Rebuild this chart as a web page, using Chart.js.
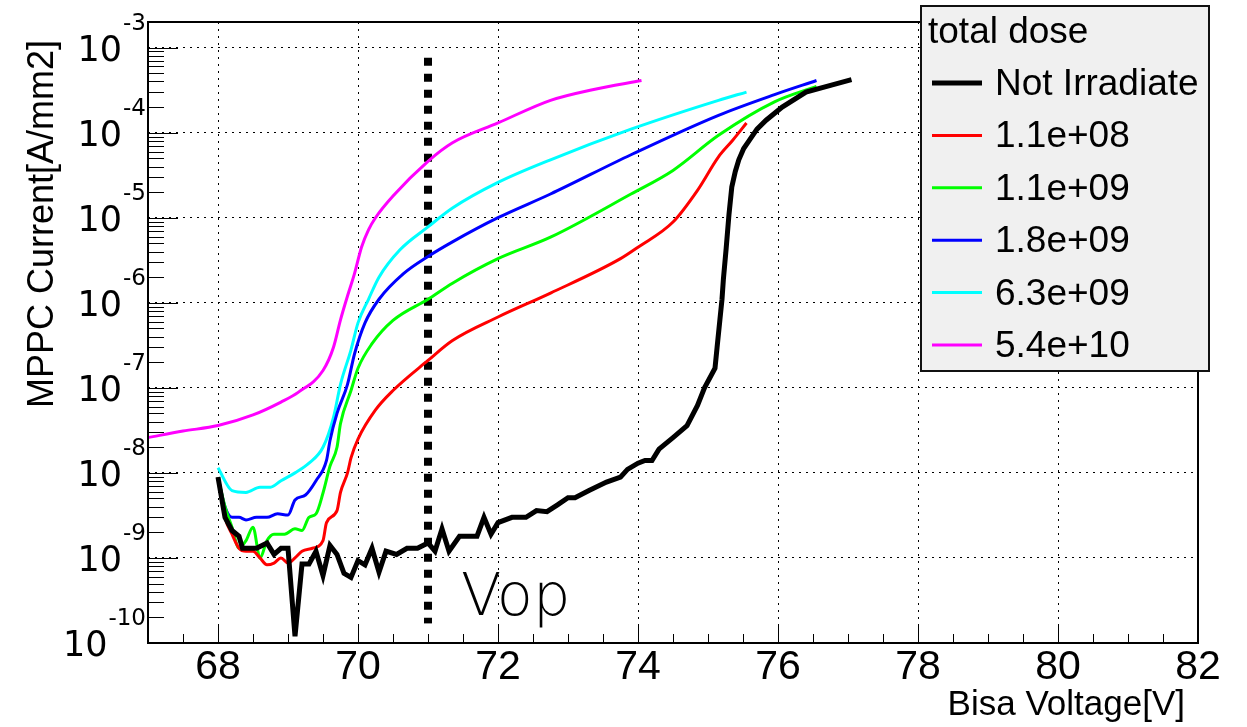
<!DOCTYPE html>
<html>
<head>
<meta charset="utf-8">
<script src="https://cdn.jsdelivr.net/npm/chart.js@4.4.1/dist/chart.umd.min.js"></script>
<style>
  html, body { margin: 0; padding: 0; background: #fff; }
  canvas { display: block; }
</style>
</head>
<body>
<canvas id="mppc" width="1247" height="727"></canvas>
<script>
// bias voltage [V] and current [A/mm2]
const notIrrV = [68.0, 68.1, 68.2, 68.3, 68.35, 68.45, 68.55, 68.7, 68.8, 68.9, 69.0, 69.1, 69.2, 69.3, 69.4, 69.5, 69.6, 69.7, 69.8, 69.9,
    70.0, 70.1, 70.2, 70.3, 70.4, 70.55, 70.7, 70.85, 71.0, 71.1, 71.2, 71.3, 71.45, 71.7, 71.8, 71.9, 72.0, 72.2, 72.4, 72.55,
    72.7, 72.85, 73.0, 73.1, 73.3, 73.55, 73.75, 73.85, 74.0, 74.1, 74.2, 74.3, 74.5, 74.7, 74.85, 74.95, 75.1, 75.13, 75.17, 75.2,
    75.22, 75.26, 75.3, 75.34, 75.39, 75.44, 75.51, 75.59, 75.7, 75.83, 76.06, 76.4, 76.75, 77.05];
const notIrrI = [8.9e-9, 3.0e-9, 2.1e-9, 1.8e-9, 1.3e-9, 1.3e-9, 1.3e-9, 1.5e-9, 1.1e-9, 1.3e-9, 1.3e-9, 1.2e-10, 8.5e-10, 8.5e-10, 1.2e-9, 6.2e-10, 1.4e-9, 1.1e-9, 6.6e-10, 5.9e-10,
    9.3e-10, 8.3e-10, 1.3e-9, 6.8e-10, 1.2e-9, 1.1e-9, 1.3e-9, 1.3e-9, 1.5e-9, 1.2e-9, 2.2e-9, 1.2e-9, 1.8e-9, 1.8e-9, 3.0e-9, 1.9e-9, 2.6e-9, 3.0e-9, 3.0e-9, 3.6e-9,
    3.5e-9, 4.2e-9, 5.1e-9, 5.1e-9, 6.2e-9, 7.8e-9, 8.9e-9, 1.1e-8, 1.3e-8, 1.4e-8, 1.4e-8, 1.9e-8, 2.6e-8, 3.6e-8, 6.2e-8, 1.0e-7, 1.7e-7, 3.0e-7, 6.3e-7, 1.1e-6,
    1.9e-6, 4.4e-6, 1.1e-5, 2.3e-5, 3.5e-5, 4.8e-5, 6.5e-5, 8.1e-5, 1.1e-4, 1.4e-4, 2.0e-4, 3.0e-4, 3.6e-4, 4.2e-4];

const dose1V = [68.0, 68.1, 68.2, 68.3, 68.4, 68.5, 68.6, 68.7, 68.8, 68.9, 69.0, 69.1, 69.2, 69.35, 69.5, 69.55, 69.7, 69.75, 69.85, 69.9,
    70.0, 70.25, 70.5, 71.0, 71.35, 72.0, 72.75, 73.75, 74.0, 74.5, 74.85, 75.15, 75.35, 75.55];
const dose1I = [8.9e-9, 3.0e-9, 1.9e-9, 1.3e-9, 1.2e-9, 1.2e-9, 1.0e-9, 8.3e-10, 8.7e-10, 1.0e-9, 8.7e-10, 1.0e-9, 1.2e-9, 1.3e-9, 1.6e-9, 2.6e-9, 3.6e-9, 5.9e-9, 1.0e-8, 1.5e-8,
    2.5e-8, 5.5e-8, 9.3e-8, 2.1e-7, 3.6e-7, 6.8e-7, 1.3e-6, 3.3e-6, 4.5e-6, 8.9e-6, 2.1e-5, 5.2e-5, 8.1e-5, 1.3e-4];

const dose2V = [68.0, 68.1, 68.2, 68.3, 68.4, 68.5, 68.6, 68.7, 68.8, 68.95, 69.1, 69.2, 69.3, 69.4, 69.5, 69.6, 69.7, 69.75, 69.9, 70.0,
    70.2, 70.5, 71.0, 71.35, 72.0, 72.75, 73.9, 74.5, 75.15, 75.95, 76.55];
const dose2I = [8.9e-9, 4.0e-9, 2.3e-9, 1.3e-9, 1.6e-9, 2.3e-9, 1.0e-9, 1.6e-9, 1.9e-9, 1.9e-9, 2.2e-9, 2.1e-9, 3.0e-9, 3.3e-9, 5.8e-9, 1.2e-8, 2.0e-8, 3.8e-8, 9.3e-8, 1.7e-7,
    3.3e-7, 6.2e-7, 1.1e-6, 1.7e-6, 3.3e-6, 5.9e-6, 1.9e-5, 3.6e-5, 9.3e-5, 2.3e-4, 3.5e-4];

const dose3V = [68.0, 68.1, 68.2, 68.3, 68.4, 68.55, 68.7, 68.85, 69.0, 69.1, 69.25, 69.4, 69.55, 69.6, 69.7, 69.85, 69.95, 70.1, 70.3, 70.65,
    71.0, 71.35, 72.0, 72.75, 73.9, 75.15, 75.95, 76.55];
const dose3I = [8.9e-9, 4.0e-9, 3.0e-9, 3.0e-9, 2.8e-9, 3.0e-9, 3.0e-9, 3.3e-9, 3.2e-9, 4.8e-9, 5.5e-9, 8.1e-9, 1.4e-8, 2.4e-8, 5.0e-8, 1.1e-7, 2.5e-7, 5.8e-7, 1.1e-6, 2.2e-6,
    3.5e-6, 5.2e-6, 1.0e-5, 1.9e-5, 5.5e-5, 1.6e-4, 2.8e-4, 4.1e-4];

const dose4V = [68.0, 68.2, 68.4, 68.6, 68.75, 68.9, 69.1, 69.3, 69.5, 69.65, 69.75, 69.9, 70.0, 70.15, 70.3, 70.6, 71.0, 71.35, 72.0,
    72.75, 73.9, 75.15, 75.55];
const dose4I = [1.15e-8, 6.2e-9, 5.9e-9, 6.8e-9, 6.8e-9, 8.1e-9, 1.0e-8, 1.3e-8, 2.0e-8, 4.5e-8, 1.1e-7, 2.8e-7, 5.8e-7, 1.1e-6, 2.0e-6, 4.2e-6, 7.8e-6, 1.3e-5, 2.6e-5,
    4.8e-5, 1.1e-4, 2.4e-4, 3.0e-4];

const dose5V = [67.0, 67.5, 68.0, 68.5, 68.9, 69.15, 69.5, 69.65, 69.75, 69.85, 69.95, 70.05, 70.15, 70.25, 70.5, 71.0, 71.35, 72.0, 72.75, 73.35, 74.05];
const dose5I = [2.6e-8, 3.1e-8, 3.6e-8, 4.8e-8, 6.8e-8, 8.9e-8, 1.6e-7, 3.0e-7, 6.3e-7, 1.2e-6, 2.2e-6, 4.5e-6, 7.2e-6, 1.0e-5, 1.8e-5, 4.6e-5, 7.6e-5, 1.3e-4, 2.4e-4, 3.2e-4, 4.1e-4];

// operating voltage marker
const vopV = [71, 71];
const vopI = [7.6e-4, 1.7e-10];

const doseLabels = ["Not Irradiate", "1.1e+08", "1.1e+09", "1.8e+09", "6.3e+09", "5.4e+10"];
const doseColors = ["#000000", "#ff0000", "#00ff00", "#0000ff", "#00ffff", "#ff00ff"];
const lineWidths = [5, 3, 3, 3, 3, 3];

const xTicks = [68, 70, 72, 74, 76, 78, 80, 82];
const yTicks = [1e-10, 1e-9, 1e-8, 1e-7, 1e-6, 1e-5, 1e-4, 1e-3];

const FONT = "'Liberation Sans', Arial, Helvetica, sans-serif";
const WIDE = "'DejaVu Sans', 'Liberation Sans', sans-serif";

function pts(xs, ys) {
    return xs.map((v, i) => ({ x: v, y: ys[i] }));
}

const curves = [[notIrrV, notIrrI], [dose1V, dose1I], [dose2V, dose2I], [dose3V, dose3I], [dose4V, dose4I], [dose5V, dose5I]];

const datasets = curves.map(([xs, ys], i) => ({
    label: doseLabels[i],
    data: pts(xs, ys),
    showLine: true,
    borderColor: doseColors[i],
    borderWidth: lineWidths[i],
    pointRadius: 0,
    tension: 0,
    cubicInterpolationMode: i === 0 ? "default" : "monotone",
}));

datasets.push({
    label: "Vop",
    data: pts(vopV, vopI),
    showLine: true,
    borderColor: "#000",
    borderWidth: 8,
    borderDash: [8, 8],
    borderCapStyle: "butt",
    pointRadius: 0,
});

// frame, inner ticks, y labels with exponents, titles, Vop text
const decorations = {
    id: "decorations",
    afterDatasetsDraw(chart) {
        const { ctx, chartArea: a, scales } = chart;
        const x = scales.x, y = scales.y;
        ctx.save();
        ctx.strokeStyle = "#000";
        ctx.lineWidth = 1;
        ctx.beginPath();
        for (let v = 67; v <= 82; v += 0.5) {
            const px = Math.round(x.getPixelForValue(v)) + 0.5;
            const len = v % 2 === 0 ? 19 : 9;
            ctx.moveTo(px, a.bottom);
            ctx.lineTo(px, a.bottom - len);
        }
        for (let k = -10; k <= -3; k++) {
            for (let m = 1; m <= 9; m++) {
                const v = m * Math.pow(10, k);
                if (v > y.max) break;
                const py = Math.round(y.getPixelForValue(v)) + 0.5;
                ctx.moveTo(a.left, py);
                ctx.lineTo(a.left + (m === 1 ? 30 : 16), py);
            }
        }
        ctx.stroke();

        ctx.lineWidth = 2;
        ctx.strokeRect(a.left, a.top, a.right - a.left, a.bottom - a.top);

        // y tick labels 10^k
        ctx.fillStyle = "#000";
        ctx.textBaseline = "alphabetic";
        ctx.textAlign = "left";
        yTicks.forEach((v) => {
            const py = y.getPixelForValue(v);
            const exp = String(Math.round(Math.log10(v)));
            ctx.font = "35px " + WIDE;
            const wBase = ctx.measureText("10").width;
            ctx.font = "23px " + WIDE;
            const wExp = ctx.measureText(exp).width;
            const x0 = 146 - wBase - wExp - 1;
            ctx.font = "35px " + WIDE;
            ctx.fillText("10", x0, py + 13);
            ctx.font = "23px " + WIDE;
            ctx.fillText(exp, x0 + wBase + 1, py - 18);
        });

        // axis titles
        ctx.font = "35px " + FONT;
        ctx.textAlign = "right";
        ctx.fillText("Bisa Voltage[V]", 1185, 715);
        ctx.save();
        ctx.translate(53, 40);
        ctx.rotate(-Math.PI / 2);
        ctx.font = "36px " + FONT;
        ctx.fillText("MPPC Current[A/mm2]", 0, 0);
        ctx.restore();

        ctx.font = "200 59px " + WIDE;
        ctx.textAlign = "left";
        ctx.fillText("Vop", 461, 615);
        ctx.restore();
    },
    afterDraw(chart) {
        const { ctx } = chart;
        ctx.save();
        ctx.fillStyle = "#f0f0f0";
        ctx.fillRect(921, 6, 288, 365);
        ctx.strokeStyle = "#111";
        ctx.lineWidth = 2;
        ctx.strokeRect(921, 6, 288, 365);
        ctx.fillStyle = "#000";
        ctx.font = "37px " + FONT;
        ctx.textAlign = "left";
        ctx.textBaseline = "alphabetic";
        ctx.fillText("total dose", 928, 43);
        doseLabels.forEach((lab, i) => {
            const ly = 83 + i * 52.4;
            ctx.strokeStyle = doseColors[i];
            ctx.lineWidth = lineWidths[i];
            ctx.beginPath();
            ctx.moveTo(932, ly);
            ctx.lineTo(982, ly);
            ctx.stroke();
            ctx.fillText(lab, 995, ly + 12);
        });
        ctx.restore();
    },
};

const ctx = document.getElementById("mppc").getContext("2d");

const chart = new Chart(ctx, {
    type: "scatter",
    data: { datasets: datasets },
    options: {
        responsive: false,
        animation: false,
        devicePixelRatio: 1,
        layout: { padding: { top: 22, right: 49, left: 0, bottom: 0 } },
        plugins: {
            legend: { display: false },
            tooltip: { enabled: false },
        },
        scales: {
            x: {
                type: "linear",
                min: 67,
                max: 82,
                afterBuildTicks: (axis) => {
                    axis.ticks = xTicks.map((v) => ({ value: v }));
                },
                afterFit: (axis) => {
                    axis.height = 84;
                },
                grid: { color: "#000", lineWidth: 1, drawTicks: false },
                border: { display: false, dash: [2, 5] },
                ticks: {
                    color: "#000",
                    padding: 0,
                    maxRotation: 0,
                    autoSkip: false,
                    font: { size: 41, family: FONT },
                },
            },
            y: {
                type: "logarithmic",
                min: 1e-10,
                max: 2e-3,
                afterBuildTicks: (axis) => {
                    axis.ticks = yTicks.map((v) => ({ value: v }));
                },
                afterFit: (axis) => {
                    axis.width = 148;
                },
                grid: { color: "#000", lineWidth: 1, drawTicks: false },
                border: { display: false, dash: [2, 5] },
                ticks: { display: false },
            },
        },
    },
    plugins: [decorations],
});
</script>
</body>
</html>
